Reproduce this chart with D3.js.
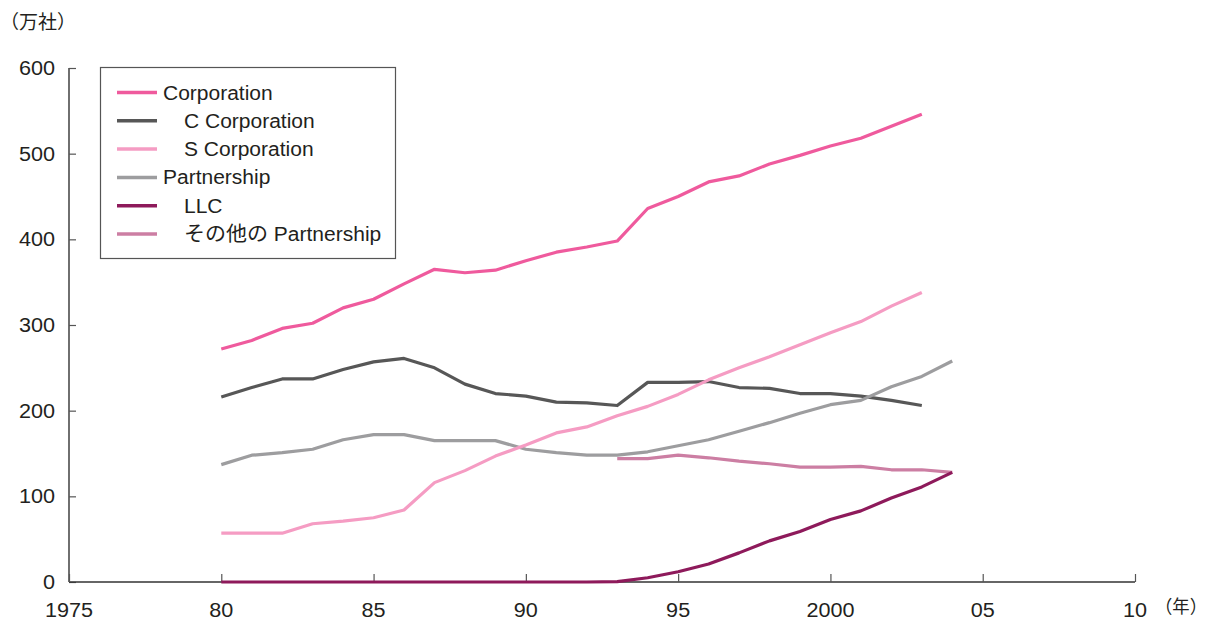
<!DOCTYPE html>
<html><head><meta charset="utf-8">
<script src="https://cdn.jsdelivr.net/npm/d3@7"></script>
<style>
body{margin:0;background:#fff;}
text{font-family:"Liberation Sans",Arial,"Noto Sans CJK JP",sans-serif;fill:#231f20;}
</style></head>
<body><svg id="c" width="1211" height="622"></svg>
<script>
const years = d3.range(1980, 2005);
const corporation = [272,282,296,302,320,330,348,365,361,364,375,385,391,398,436,450,467,474,488,498,509,518,532,546];
const cCorporation = [216,227,237,237,248,257,261,250,231,220,217,210,209,206,233,233,234,227,226,220,220,217,212,206];
const sCorporation = [57,57,57,68,71,75,84,116,130,147,160,174,181,194,205,219,236,250,263,277,291,304,322,338];
const partnership = [137,148,151,155,166,172,172,165,165,165,155,151,148,148,152,159,166,176,186,197,207,212,228,240,258];
const llc = [0,0,0,0,0,0,0,0,0,0,0,0,0,0.4,5,12,21,34,48,59,73,83,98,111,128];
const otherPartnership = [144,144,148,145,141,138,134,134,135,131,131,128];
const otherYears = d3.range(1993, 2005);
const yTicks = [0,100,200,300,400,500,600];
const xTicks = [1975,1980,1985,1990,1995,2000,2005,2010];
const xTickLabels = ["1975","80","85","90","95","2000","05","10"];
const seriesNames = ["Corporation","C Corporation","S Corporation","Partnership","LLC","その他の Partnership"];
const seriesIndent = [false,true,true,false,true,true];
const seriesColors = ["#ef5a9d","#575757","#f59cc3","#9d9d9f","#8e1a5b","#cc7ea3"];

const svg = d3.select("#c");
const x = d3.scaleLinear().domain([1975,2010]).range([69,1135]);
const y = d3.scaleLinear().domain([0,600]).range([582,68]);

function stretch(sel, f){
  sel.each(function(){
    const w = this.getComputedTextLength();
    d3.select(this).attr("textLength", w*f).attr("lengthAdjust","spacingAndGlyphs");
  });
}

// axes
const gy = svg.append("g").attr("transform","translate(69,0)")
  .call(d3.axisRight(y).tickValues(yTicks).tickSize(7).tickFormat(""));
const gx = svg.append("g").attr("transform","translate(0,582)")
  .call(d3.axisTop(x).tickValues(xTicks).tickSize(8).tickFormat(""));
[gx,gy].forEach(g=>{g.selectAll("path").attr("stroke","#333").attr("stroke-width",1.4);
  g.selectAll("line").attr("stroke","#555").attr("stroke-width",1.2);});
gy.select("path").attr("d","M0,68V582");
gx.select("path").attr("d","M69,0H1135");

const yl = svg.append("g").selectAll("text").data(yTicks).join("text")
  .attr("x",55).attr("y",d=>y(d)+7).attr("text-anchor","end")
  .style("font-size","20px").text(d=>d);
stretch(yl,1.08);
const xl = svg.append("g").selectAll("text").data(xTicks).join("text")
  .attr("x",d=>x(d)).attr("y",617).attr("text-anchor","middle")
  .style("font-size","20px").text((d,i)=>xTickLabels[i]);
stretch(xl,1.08);
svg.append("text").attr("x",0).attr("y",29).style("font-size","19px").text("（万社）");
svg.append("text").attr("x",1155).attr("y",613).style("font-size","18px")
  .attr("textLength",52).attr("lengthAdjust","spacingAndGlyphs").text("（年）");

// lines
const line = d3.line().x(d=>x(d[0])).y(d=>y(d[1]));
const data = [
  years.slice(0,24).map((yr,i)=>[yr,corporation[i]]),
  years.slice(0,24).map((yr,i)=>[yr,cCorporation[i]]),
  years.slice(0,24).map((yr,i)=>[yr,sCorporation[i]]),
  years.map((yr,i)=>[yr,partnership[i]]),
  years.map((yr,i)=>[yr,llc[i]]),
  otherYears.map((yr,i)=>[yr,otherPartnership[i]])
];
const order = [0,1,3,2,5,4];
order.forEach(k=>{
  svg.append("path").attr("d",line(data[k])).attr("fill","none")
    .attr("stroke",seriesColors[k]).attr("stroke-width",3.2)
    .attr("stroke-linejoin","round");
});

// legend
const lg = svg.append("g");
lg.append("rect").attr("x",100.5).attr("y",67.5).attr("width",295).attr("height",191)
  .attr("fill","#fff").attr("stroke","#555").attr("stroke-width",1.2);
seriesNames.forEach((n,i)=>{
  const yy = 92.5 + i*28.3;
  lg.append("line").attr("x1",117).attr("x2",157).attr("y1",yy).attr("y2",yy)
    .attr("stroke",seriesColors[i]).attr("stroke-width",3.5);
  const t = lg.append("text").attr("x",seriesIndent[i]?184:163).attr("y",yy+7)
    .style("font-size","20px").text(n);
  stretch(t,1.05);
});
</script></body></html>
